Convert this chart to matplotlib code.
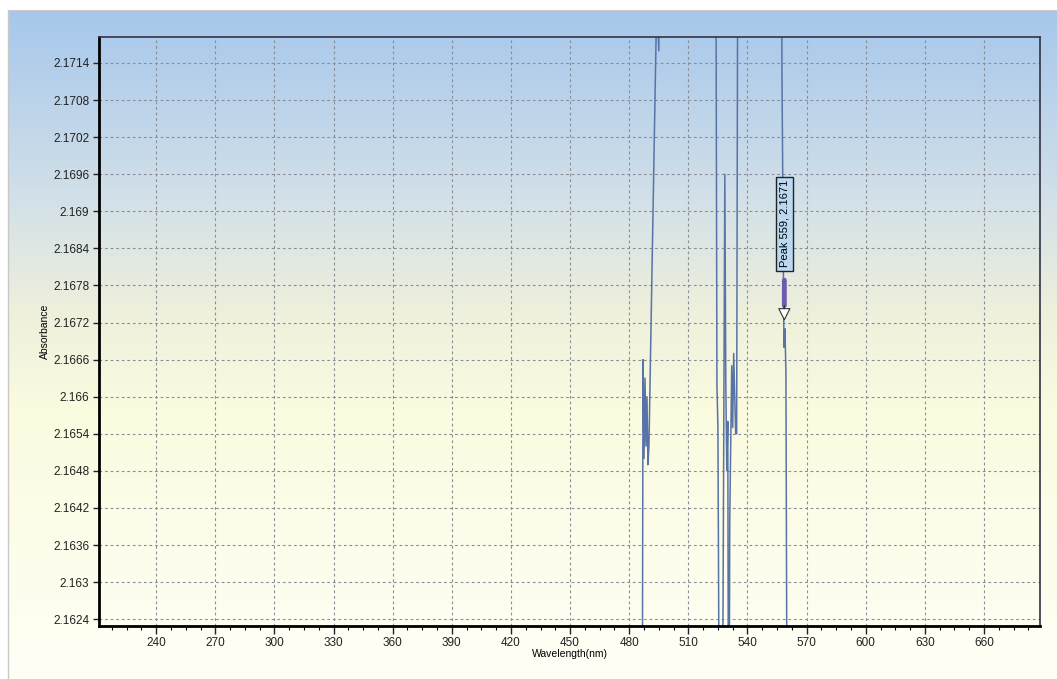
import numpy as np
import matplotlib
matplotlib.use("Agg")
import matplotlib.pyplot as plt
from matplotlib.colors import LinearSegmentedColormap

plt.rcParams['font.family'] = ['Liberation Sans', 'DejaVu Sans']

# spectrum points (nm, absorbance); values outside the window run off the plot
wavelength = [211.0, 486.0, 487.0, 487.5, 488.0, 488.5, 489.0, 489.5, 490.0,
              494.0, 495.0, 495.5, 496.0, 523.0, 524.0, 524.5, 525.0, 526.0,
              527.0, 528.5, 529.0, 529.5, 530.0, 530.5, 531.0, 532.0, 532.5,
              533.0, 534.0, 534.5, 535.5, 556.5, 557.0, 557.5, 558.0, 558.5,
              559.0, 559.5, 560.5, 688.0]
absorbance = [2.1500, 2.1500, 2.1666, 2.1650, 2.1663, 2.1652, 2.1660, 2.1649, 2.1652,
              2.1725, 2.1716, 2.1730, 2.1800, 2.1800, 2.1730, 2.1662, 2.1655, 2.1580,
              2.1580, 2.1696, 2.1662, 2.1648, 2.1656, 2.1580, 2.1640, 2.1665, 2.1655,
              2.1667, 2.1654, 2.1654, 2.1800, 2.1800, 2.1760, 2.1712, 2.1690, 2.1668,
              2.1671, 2.1664, 2.1560, 2.1500]

peak_wl = 559
peak_abs = 2.1671

x_ticks = [240, 270, 300, 330, 360, 390, 420, 450, 480, 510, 540, 570, 600, 630, 660]
y_ticks = [2.1624, 2.1630, 2.1636, 2.1642, 2.1648, 2.1654, 2.1660, 2.1666,
           2.1672, 2.1678, 2.1684, 2.1690, 2.1696, 2.1702, 2.1708, 2.1714]
y_labels = [f"{v:.4f}".rstrip('0') for v in y_ticks]

fig = plt.figure(figsize=(10.57, 6.79), dpi=100)
fig.patch.set_facecolor('white')

# gradient panel behind the plot
bg = fig.add_axes([8 / 1057, 0, 1 - 8 / 1057, 669 / 679], zorder=0)
grad = LinearSegmentedColormap.from_list('panel', [
    (0.0, '#a6c7ec'), (0.28, '#d2e0e8'), (0.45, '#eef0dc'),
    (0.6, '#fbfbe0'), (1.0, '#fffff6')])
bg.imshow(np.linspace(0, 1, 256).reshape(-1, 1), aspect='auto', cmap=grad,
          extent=[0, 1, 0, 1])
bg.set_xlim(0, 1)
bg.set_ylim(0, 1)
bg.set_xticks([])
bg.set_yticks([])
for side in ['top', 'right', 'bottom']:
    bg.spines[side].set_visible(False)
bg.spines['left'].set_color('#c8c8c8')
bg.spines['left'].set_linewidth(1)
bg.axhline(1, color='#c8c8c8', lw=1.5)

ax = fig.add_axes([99 / 1057, 53 / 679, 941 / 1057, 589 / 679], zorder=1)
ax.set_facecolor('none')
ax.plot(wavelength, absorbance, color='#5873a6', lw=1.1)

ax.set_xlim(211, 688.4)
ax.set_ylim(2.16229, 2.17182)
ax.set_xticks(x_ticks)
ax.set_xticks(np.arange(217.5, 688, 7.5), minor=True)
ax.set_yticks(y_ticks)
ax.set_yticklabels(y_labels)
ax.tick_params(axis='both', labelsize=8.5, colors='#222222', direction='out')
ax.tick_params(axis='x', which='major', length=6, width=1, pad=2)
ax.tick_params(axis='x', which='minor', length=3, width=0.8)
ax.tick_params(axis='y', which='major', length=4, width=1, pad=3)
ax.grid(True, which='major', color='#8a8e96', ls=(0, (2.5, 2.5)), lw=0.8)

for side in ['left', 'bottom']:
    ax.spines[side].set_linewidth(2)
    ax.spines[side].set_color('black')
for side in ['top', 'right']:
    ax.spines[side].set_linewidth(1.2)
    ax.spines[side].set_color('#333344')

ax.set_xlabel('Wavelength(nm)', fontsize=7.5, labelpad=0)
ax.set_ylabel('Absorbance', fontsize=7.5, labelpad=2)

# peak callout
ax.text(peak_wl - 0.3, peak_abs + 0.0017, f'Peak 559, {peak_abs}', rotation=90,
        ha='center', va='center', fontsize=8,
        bbox=dict(boxstyle='square,pad=0.3', fc='#bcd9f2', ec='#222222', lw=1))
ax.annotate('', xy=(peak_wl - 0.3, peak_abs + 0.00033),
            xytext=(peak_wl - 0.3, peak_abs + 0.00083),
            arrowprops=dict(arrowstyle='-', color='#6e5cb0', lw=3.5))
ax.annotate('', xy=(peak_wl - 0.3, peak_abs + 0.0001),
            xytext=(peak_wl - 0.3, peak_abs + 0.00042),
            arrowprops=dict(arrowstyle='simple,head_width=0.8,head_length=0.8,tail_width=0.01',
                            fc='white', ec='#333333', lw=0.8))

fig.savefig('out.png', dpi=100)
